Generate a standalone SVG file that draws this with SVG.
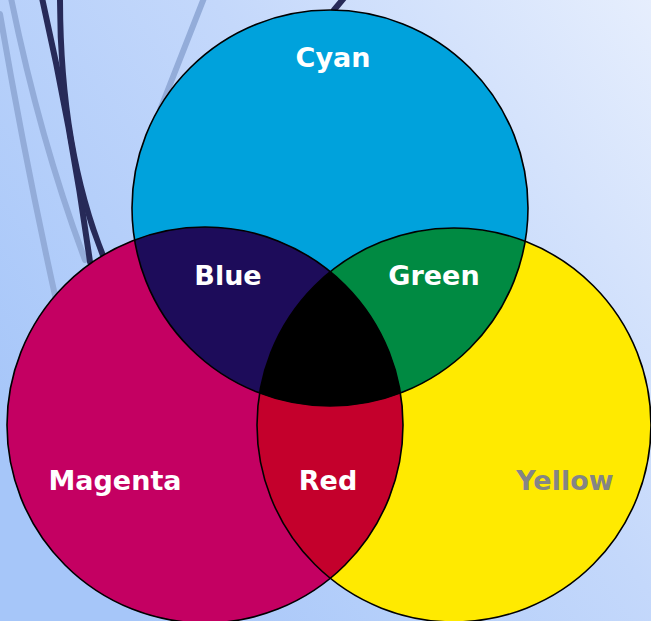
<svg xmlns="http://www.w3.org/2000/svg" width="651" height="621" viewBox="0 0 651 621">
<defs>
<linearGradient id="bg" x1="0" y1="0.7" x2="1" y2="0">
<stop offset="0" stop-color="#a6c6f9"/>
<stop offset="0.55" stop-color="#c4d8fb"/>
<stop offset="1" stop-color="#e6eefd"/>
</linearGradient>
<clipPath id="clipC"><circle cx="330" cy="208" r="198"/></clipPath>
<clipPath id="clipM"><circle cx="205" cy="425" r="198"/></clipPath>
<style>
.lbl{font-family:"DejaVu Sans","Liberation Sans",sans-serif;font-weight:bold;font-size:27px;text-anchor:middle;fill:#ffffff}
.edge{fill:none;stroke:#000;stroke-width:1.6}
.light{fill:none;stroke:#93acd9;stroke-width:6;stroke-linecap:round}
.dark{fill:none;stroke:#272a58;stroke-width:6;stroke-linecap:round}
</style>
</defs>
<rect x="0" y="0" width="651" height="621" fill="url(#bg)"/>
<g id="background-lines">
<path class="light" d="M0,14 Q25,160 56,300"/>
<path class="light" d="M11,-2 Q40,140 85,260"/>
<path class="light" d="M204,-2 L160,110"/>
<path class="dark" d="M42,-2 Q72,130 90,262"/>
<path class="dark" d="M60,-2 Q60,150 104,258"/>
<path class="dark" d="M334,10 L344,-2" stroke-width="3"/>
</g>
<g id="cyan"><circle cx="330" cy="208" r="198" fill="#00a2dc"/></g>
<g id="magenta"><circle cx="205" cy="425" r="198" fill="#c40062"/></g>
<g id="yellow"><circle cx="454" cy="425" r="197" fill="#ffea00"/></g>
<g id="blue"><circle cx="205" cy="425" r="198" fill="#1d0c5a" clip-path="url(#clipC)"/></g>
<g id="green"><circle cx="454" cy="425" r="197" fill="#008a42" clip-path="url(#clipC)"/></g>
<g id="red"><circle cx="454" cy="425" r="197" fill="#c4002c" clip-path="url(#clipM)"/></g>
<g id="black"><g clip-path="url(#clipC)"><circle cx="454" cy="425" r="197" fill="#000" clip-path="url(#clipM)"/></g></g>
<g id="outlines">
<circle class="edge" cx="330" cy="208" r="198"/>
<circle class="edge" cx="205" cy="425" r="198"/>
<circle class="edge" cx="454" cy="425" r="197"/>
</g>
<g id="labels">
<text class="lbl" x="333" y="67">Cyan</text>
<text class="lbl" x="228" y="285">Blue</text>
<text class="lbl" x="434" y="285">Green</text>
<text class="lbl" x="115" y="490">Magenta</text>
<text class="lbl" x="328" y="490">Red</text>
<text class="lbl" x="565" y="490" style="fill:#858585">Yellow</text>
</g>
</svg>
